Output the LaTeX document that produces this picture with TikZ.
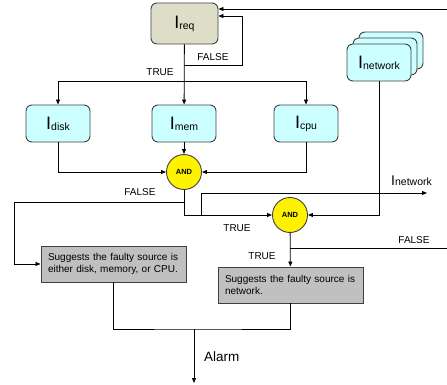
\documentclass[tikz,border=0pt]{standalone}
\usepackage{fontspec}
\setmainfont{Liberation Sans}
\usetikzlibrary{arrows.meta,calc}
\definecolor{reqfill}{RGB}{221,221,200}
\definecolor{cyanfill}{RGB}{204,255,255}
\definecolor{grayfill}{RGB}{192,192,192}
\definecolor{edgegray}{RGB}{64,64,64}
\newcommand{\symI}[1]{{\fontsize{18}{18}\selectfont I}\raisebox{-1pt}{\fontsize{10.5}{10.5}\selectfont #1}}
\begin{document}
\begin{tikzpicture}[x=1pt,y=-1pt,
  arr/.style={-{Triangle[length=5pt,width=4pt]}, line width=0.8pt},
  conn/.style={line width=0.8pt},
  rbox/.style={draw=edgegray, line width=0.9pt, rounded corners=6pt, minimum width=64pt, minimum height=37pt, fill=cyanfill, inner sep=0pt},
  andnode/.style={circle, draw=edgegray, line width=0.9pt, fill=yellow, minimum size=35pt, inner sep=0pt, font=\bfseries\fontsize{7.5}{7.5}\selectfont},
  msg/.style={draw=edgegray, line width=0.9pt, fill=grayfill, minimum width=145pt, minimum height=36pt, text width=131pt, inner xsep=7pt, align=left, font=\fontsize{10}{12}\selectfont},
  lbl/.style={font=\fontsize{10}{10}\selectfont, inner sep=0pt}
]
\useasboundingbox (0,0) rectangle (447,385);

% nodes
\node[rbox, fill=reqfill, minimum width=67pt, minimum height=41pt] (req) at (184.5,23.5) {\symI{req}};
\node[rbox] (disk) at (58,123.5) {\symI{disk}};
\node[rbox] (mem) at (184,123.5) {\symI{mem}};
\node[rbox] (cpu) at (306,123.5) {\symI{cpu}};
\node[rbox] (net3) at (391,50.5) {};
\node[rbox] (net2) at (385,56.5) {};
\node[rbox] (net) at (379,62.5) {\symI{network}};
\node[andnode] (and1) at (184,172) {AND};
\node[andnode] (and2) at (290,215) {AND};
\node[msg] (box1) at (113.5,264) {Suggests the faulty source is either disk, memory, or CPU.};
\node[msg] (box2) at (290.5,285) {Suggests the faulty source is network.};

% coordinates
\coordinate (rin) at (447,9);
\coordinate (fb) at (184,65);
\coordinate (fl) at (242,65);
\coordinate (tb) at (184,81);
\coordinate (f1) at (184,202);
\coordinate (fl1) at (14,264);
\coordinate (n1) at (201,215);
\coordinate (nout) at (427,193);
\coordinate (f2) at (290,248);
\coordinate (f2e) at (447,248);
\coordinate (mg) at (194,329);
\coordinate (alarm) at (194,383);

% connectors
\draw[arr] (rin) -- (rin -| req.east);
\draw[arr] (fb) -| (fl) |- ($(req.east)+(0,-7.5)$);
\draw[arr] (req) -- (mem);
\draw[arr] (tb) -| (disk);
\draw[arr] (tb) -| (cpu);
\draw[arr] (disk) |- (and1);
\draw[arr] (cpu) |- (and1);
\draw[arr] (mem) -- (and1);
\draw[arr] (and1) |- (and2);
\draw[arr] (net) |- (and2);
\draw[arr] (f1) -| (fl1) -- (box1);
\draw[arr] (n1) |- (nout);
\draw[arr] (and2) -- (box2);
\draw[conn] (f2) -- (f2e);
\draw[conn] (box1) |- (mg) -| (box2);
\draw[arr] (mg) -- (alarm);

% labels
\node[lbl] (lf0) at (213,57) {FALSE};
\node[lbl] (lt0) at (160,72) {TRUE};
\node[lbl] (lf1) at (140,192) {FALSE};
\node[lbl] (lt1) at (237,228) {TRUE};
\node[lbl] (lt2) at (262,256) {TRUE};
\node[lbl] (lf2) at (414,240) {FALSE};
\node[anchor=base west, inner sep=0pt] (lnet) at (391,185) {{\fontsize{14}{14}\selectfont I}\raisebox{-1pt}{\fontsize{10.5}{10.5}\selectfont network}};
\node[anchor=west, inner sep=0pt, font=\fontsize{13.5}{13.5}\selectfont] (lalarm) at (204,357) {Alarm};
\end{tikzpicture}
\end{document}
